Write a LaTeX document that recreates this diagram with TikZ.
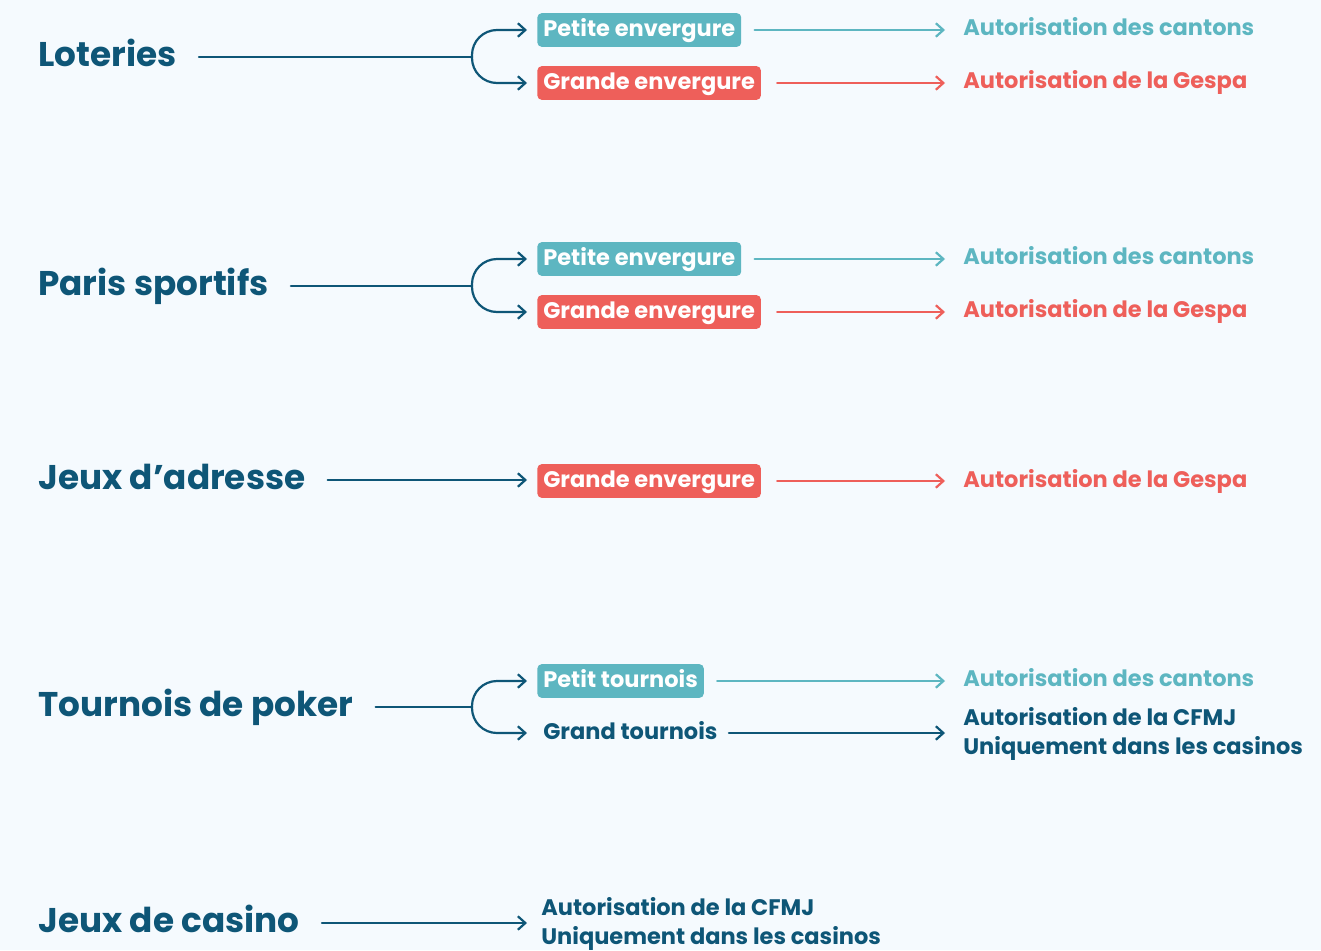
\documentclass[tikz,border=0pt]{standalone}
\usepackage{fontspec}
\setmainfont{Poppins}
\usetikzlibrary{arrows.meta}
\definecolor{bg}{HTML}{F5FAFE}
\definecolor{navy}{HTML}{0E5677}
\definecolor{petite}{HTML}{5DB6C1}
\definecolor{grande}{HTML}{EE5F5A}
\tikzset{
  cat/.style={anchor=west, inner sep=0pt, text=navy, text height=13.7pt, text depth=2.5pt,
    font=\fontsize{19.5}{24}\selectfont\bfseries},
  tag/.style={anchor=west, rounded corners=2.5pt, text=white, inner xsep=0.12cm, inner ysep=4.2pt,
    text height=8.9pt, text depth=1.9pt, font=\fontsize{12.8}{16}\selectfont\bfseries},
  plain/.style={anchor=west, inner xsep=0.12cm, inner ysep=4.2pt, text=navy,
    text height=8.9pt, text depth=1.9pt, font=\fontsize{12.8}{16}\selectfont\bfseries},
  res/.style={anchor=west, inner sep=0pt, text height=8.9pt, text depth=2.2pt,
    font=\fontsize{12.8}{16}\selectfont\bfseries},
  res2/.style={anchor=west, inner xsep=0.08cm, inner ysep=0pt, text=navy, align=left,
    font=\fontsize{12.8}{16.4}\selectfont\bfseries},
  tip/.style={-{Straight Barb[length=0.15cm,width=0.27cm]}},
  link/.style={line width=1.25pt, line cap=round, line join=round},
  main/.style={link, draw=navy, shorten <=0.44cm},
  fork/.style={link, draw=navy, tip, rounded corners=0.5cm, shorten >=0.2cm},
  direct/.style={link, draw=navy, tip, shorten <=0.44cm, shorten >=0.2cm},
  petl/.style={link, draw=petite, tip, shorten <=0.26cm, shorten >=0.36cm},
  grl/.style={link, draw=grande, tip, shorten <=0.32cm, shorten >=0.36cm},
  navl/.style={link, draw=navy, tip, shorten <=0.1cm, shorten >=0.36cm},
}
\begin{document}
\begin{tikzpicture}[x=0.02cm, y=-0.02cm]
  \path[fill=bg, use as bounding box] (0,0) rectangle (1321,950);

  % Loteries
  \node[cat] (lot) at (38,57) {Loteries};
  \coordinate (lotf) at (472,57);
  \node[tag, fill=petite] (lotp) at (537,30) {Petite envergure};
  \node[tag, fill=grande] (lotg) at (537,83) {Grande envergure};
  \node[res, text=petite] (lotpr) at (963,30) {Autorisation des cantons};
  \node[res, text=grande] (lotgr) at (963,83) {Autorisation de la Gespa};
  \draw[main] (lot) -- (lotf);
  \draw[fork] (lotf) |- (lotp);
  \draw[fork] (lotf) |- (lotg);
  \draw[petl] (lotp) -- (lotp -| lotpr.west);
  \draw[grl] (lotg) -- (lotg -| lotgr.west);

  % Paris sportifs
  \node[cat] (par) at (38,286) {Paris sportifs};
  \coordinate (parf) at (472,286);
  \node[tag, fill=petite] (parp) at (537,259) {Petite envergure};
  \node[tag, fill=grande] (parg) at (537,312) {Grande envergure};
  \node[res, text=petite] (parpr) at (963,259) {Autorisation des cantons};
  \node[res, text=grande] (pargr) at (963,312) {Autorisation de la Gespa};
  \draw[main] (par) -- (parf);
  \draw[fork] (parf) |- (parp);
  \draw[fork] (parf) |- (parg);
  \draw[petl] (parp) -- (parp -| parpr.west);
  \draw[grl] (parg) -- (parg -| pargr.west);

  % Jeux d'adresse
  \node[cat] (adr) at (38,480) {Jeux d’adresse};
  \node[tag, fill=grande] (adrg) at (537,481) {Grande envergure};
  \node[res, text=grande] (adrgr) at (963,482) {Autorisation de la Gespa};
  \draw[direct] (adr) -- (adr -| adrg.west);
  \draw[grl] (adrg) -- (adrg -| adrgr.west);

  % Tournois de poker
  \node[cat] (pok) at (38,707) {Tournois de poker};
  \coordinate (pokf) at (472,707);
  \node[tag, fill=petite] (pokp) at (537,681) {Petit tournois};
  \node[plain] (pokg) at (537,733) {Grand tournois};
  \node[res, text=petite] (pokpr) at (963,681) {Autorisation des cantons};
  \node[res2, inner xsep=0pt] (pokgr) at (963,734) {Autorisation de la CFMJ\\Uniquement dans les casinos};
  \draw[main] (pok) -- (pokf);
  \draw[fork] (pokf) |- (pokp);
  \draw[fork] (pokf) |- (pokg);
  \draw[petl] (pokp) -- (pokp -| pokpr.west);
  \draw[navl] (pokg) -- (pokg -| pokgr.west);

  % Jeux de casino
  \node[cat] (cas) at (38,923) {Jeux de casino};
  \node[res2] (casr) at (537,924) {Autorisation de la CFMJ\\Uniquement dans les casinos};
  \draw[direct] (cas) -- (cas -| casr.west);
\end{tikzpicture}
\end{document}
